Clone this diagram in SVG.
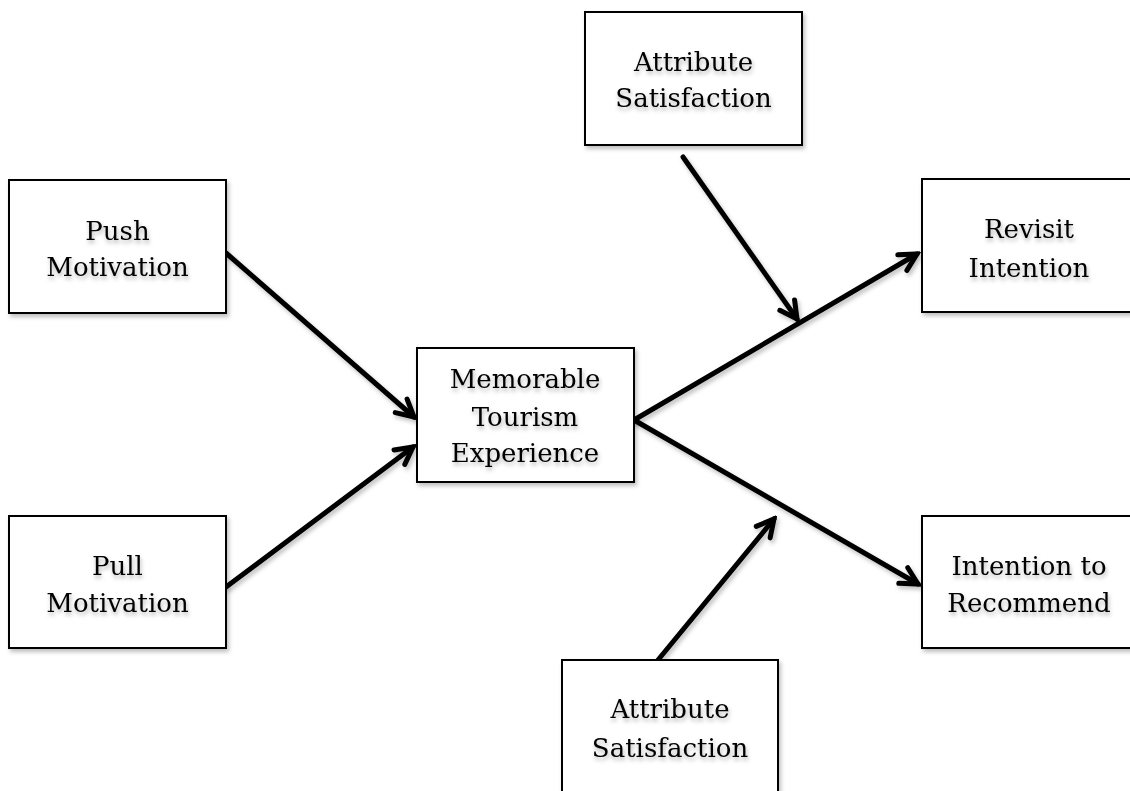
<svg xmlns="http://www.w3.org/2000/svg" width="1130" height="791" viewBox="0 0 1130 791">
  <style>
    .box { fill: #ffffff; stroke: #000000; stroke-width: 2; filter: url(#shadow); }
    .lbl { font-family: "DejaVu Serif", "Liberation Serif", serif; font-size: 26px; fill: #000000; text-anchor: middle; filter: url(#tshadow); }
    .conn { stroke: #000000; stroke-width: 5; fill: none; stroke-linecap: round; marker-end: url(#arrow); filter: url(#shadow); }
  </style>
  <defs>
    <filter id="shadow" x="-10%" y="-10%" width="130%" height="130%">
      <feDropShadow dx="2" dy="3" stdDeviation="2" flood-color="#000000" flood-opacity="0.25"/>
    </filter>
    <filter id="tshadow" x="-10%" y="-20%" width="130%" height="160%">
      <feDropShadow dx="1" dy="3" stdDeviation="2" flood-color="#000000" flood-opacity="0.3"/>
    </filter>
    <marker id="arrow" markerUnits="userSpaceOnUse" viewBox="-24 -14 28 28" refX="0" refY="0" markerWidth="28" markerHeight="28" orient="auto">
      <path d="M-17,-9 L0,0 L-17,9" fill="none" stroke="#000000" stroke-width="5" stroke-linecap="round" stroke-linejoin="miter"/>
    </marker>
  </defs>
  <rect width="1130" height="791" fill="#ffffff"/>

  <g id="connectors">
    <line class="conn" x1="226" y1="253" x2="414" y2="417"/>
    <line class="conn" x1="226" y1="587" x2="413" y2="447"/>
    <line class="conn" x1="634" y1="420" x2="917" y2="254"/>
    <line class="conn" x1="634" y1="420" x2="918" y2="584"/>
    <line class="conn" x1="683" y1="157" x2="797" y2="319"/>
    <line class="conn" x1="658" y1="660" x2="774" y2="519"/>
  </g>

  <g id="push">
    <rect class="box" x="9" y="180" width="217" height="133"/>
    <text class="lbl" x="117.5" y="240">Push</text>
    <text class="lbl" x="117.5" y="276">Motivation</text>
  </g>
  <g id="pull">
    <rect class="box" x="9" y="516" width="217" height="132"/>
    <text class="lbl" x="117.5" y="575">Pull</text>
    <text class="lbl" x="117.5" y="612">Motivation</text>
  </g>
  <g id="mte">
    <rect class="box" x="417" y="348" width="217" height="134"/>
    <text class="lbl" x="525" y="388">Memorable</text>
    <text class="lbl" x="525" y="426">Tourism</text>
    <text class="lbl" x="525" y="462">Experience</text>
  </g>
  <g id="attr-top">
    <rect class="box" x="585" y="12" width="217" height="133"/>
    <text class="lbl" x="693.5" y="71">Attribute</text>
    <text class="lbl" x="693.5" y="107">Satisfaction</text>
  </g>
  <g id="revisit">
    <rect class="box" x="922" y="179" width="215" height="133"/>
    <text class="lbl" x="1029" y="238">Revisit</text>
    <text class="lbl" x="1029" y="277">Intention</text>
  </g>
  <g id="recommend">
    <rect class="box" x="922" y="516" width="215" height="132"/>
    <text class="lbl" x="1029" y="575">Intention to</text>
    <text class="lbl" x="1029" y="612">Recommend</text>
  </g>
  <g id="attr-bottom">
    <rect class="box" x="562" y="660" width="216" height="134"/>
    <text class="lbl" x="670" y="718">Attribute</text>
    <text class="lbl" x="670" y="757">Satisfaction</text>
  </g>
</svg>
